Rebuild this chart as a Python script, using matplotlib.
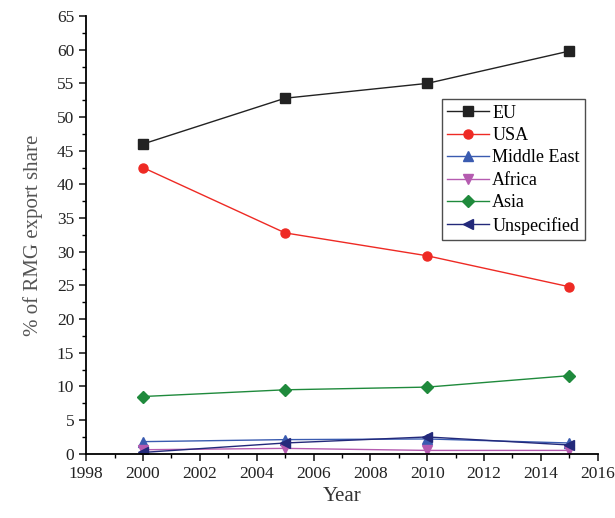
import matplotlib
matplotlib.use("Agg")
import matplotlib.pyplot as plt
from matplotlib.ticker import MultipleLocator

plt.rcParams["font.family"] = ["Liberation Serif", "DejaVu Serif"]

years = [2000, 2005, 2010, 2015]
eu = [46.0, 52.8, 55.0, 59.8]
usa = [42.5, 32.8, 29.4, 24.8]
middle_east = [1.8, 2.1, 2.2, 1.6]
africa = [0.6, 0.8, 0.5, 0.5]
asia = [8.5, 9.5, 9.9, 11.6]
unspecified = [0.2, 1.6, 2.5, 1.3]

series = [
    ("EU", eu, "#222222", "s"),
    ("USA", usa, "#ee2a24", "o"),
    ("Middle East", middle_east, "#3a5bb0", "^"),
    ("Africa", africa, "#b55bb0", "v"),
    ("Asia", asia, "#1f8a3c", "D"),
    ("Unspecified", unspecified, "#23297a", "<"),
]

fig = plt.figure(figsize=(6.15, 5.18), dpi=100)
ax = fig.add_axes([0.14, 0.124, 0.832, 0.845])

for name, vals, color, marker in series:
    ax.plot(years, vals, color=color, marker=marker, markersize=6.5,
            linewidth=1, label=name)

ax.set_xlim(1998, 2016)
ax.set_ylim(0, 65)
ax.xaxis.set_major_locator(MultipleLocator(2))
ax.xaxis.set_minor_locator(MultipleLocator(1))
ax.yaxis.set_major_locator(MultipleLocator(5))
ax.yaxis.set_minor_locator(MultipleLocator(2.5))
ax.tick_params(which="major", direction="out", length=5, width=1.2,
               labelsize=12.5, colors="#222222")
ax.tick_params(which="minor", direction="out", length=3, width=1)
for side in ("top", "right"):
    ax.spines[side].set_visible(False)
for side in ("left", "bottom"):
    ax.spines[side].set_linewidth(1.3)

ax.set_xlabel("Year", fontsize=15, color="#333333")
ax.set_ylabel("% of RMG export share", fontsize=15, color="#555555",
              labelpad=10)

leg = ax.legend(loc="upper left", bbox_to_anchor=(0.695, 0.81), fontsize=13,
                frameon=True, fancybox=False, edgecolor="#222222",
                handlelength=2.3, handletextpad=0.2, borderpad=0.3,
                labelspacing=0.3, borderaxespad=0)
leg.get_frame().set_linewidth(1)

fig.savefig("out.png", dpi=100)
